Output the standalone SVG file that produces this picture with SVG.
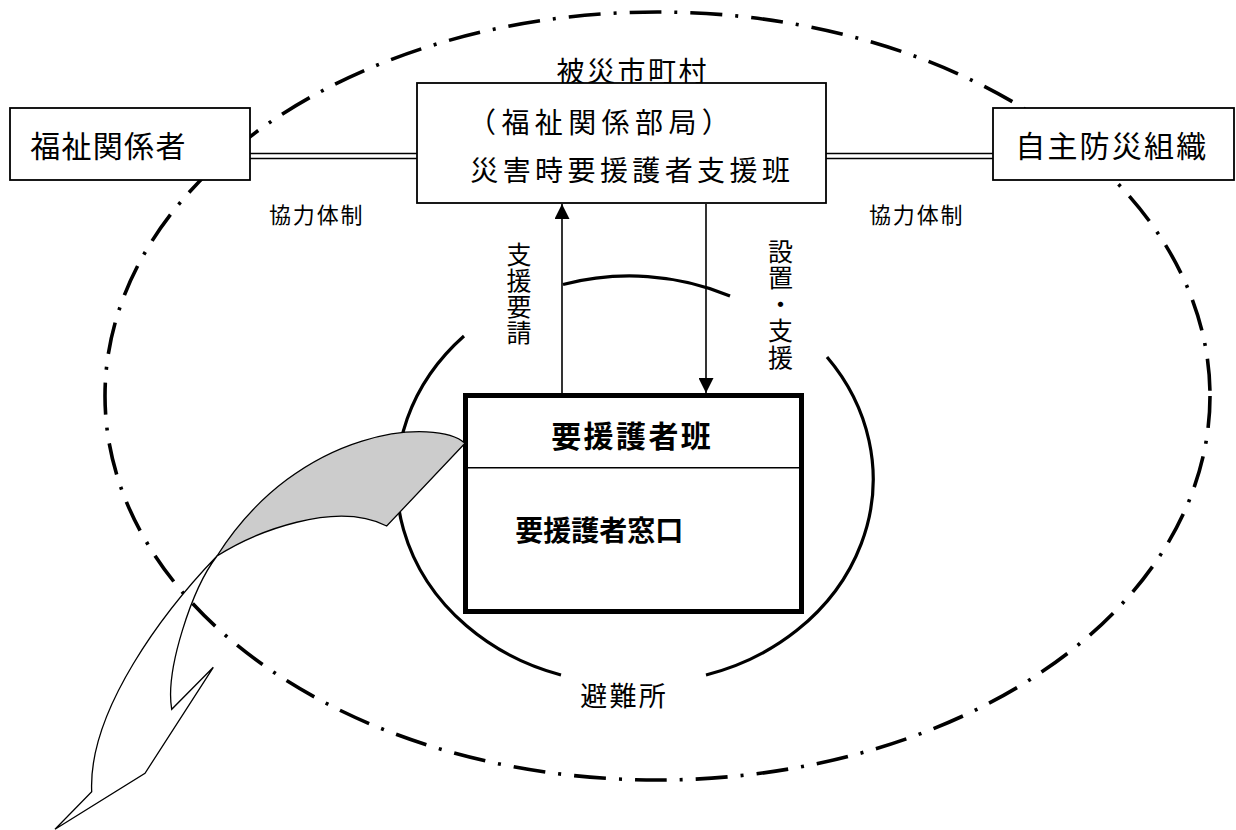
<svg xmlns="http://www.w3.org/2000/svg" width="1236" height="830" viewBox="0 0 1236 830">
<style>
  text { font-family: "Noto Sans CJK JP", "Noto Sans CJK SC", sans-serif; fill: #000; dominant-baseline: central; }
  .box { fill: #fff; stroke: #000; stroke-width: 1.8; }
  .thin { fill: none; stroke: #000; stroke-width: 1.6; }
  .shelter { fill: none; stroke: #000; stroke-width: 3.2; }
  .area { fill: none; stroke: #000; stroke-width: 3.6; stroke-dasharray: 32 13 3 13; }
  .vt { writing-mode: vertical-rl; text-orientation: upright; font-size: 25px; }
</style>
<defs>
  <marker id="ah" viewBox="0 0 15 15" refX="15" refY="7.5" markerWidth="15" markerHeight="15" markerUnits="userSpaceOnUse" orient="auto">
    <path d="M0,0 L15,7.5 L0,15 Z" fill="#000"/>
  </marker>
</defs>
<rect width="1236" height="830" fill="#fff"/>

<g id="municipality-area">
  <ellipse class="area" cx="657.5" cy="396" rx="552.5" ry="384"/>
</g>

<g id="connectors">
  <line class="thin" x1="250" y1="153.5" x2="417" y2="153.5"/>
  <line class="thin" x1="250" y1="158.5" x2="417" y2="158.5"/>
  <line class="thin" x1="826" y1="153.5" x2="993" y2="153.5"/>
  <line class="thin" x1="826" y1="158.5" x2="993" y2="158.5"/>
  <line class="thin" x1="562" y1="394" x2="562" y2="204" marker-end="url(#ah)"/>
  <line class="thin" x1="706" y1="204" x2="706" y2="393" marker-end="url(#ah)"/>
</g>

<g id="welfare">
  <rect class="box" x="10" y="108" width="240" height="72"/>
  <text x="30.2" y="144" font-size="30" letter-spacing="1.3">福祉関係者</text>
</g>

<g id="jishubo">
  <rect class="box" x="993" y="108" width="241" height="72"/>
  <text x="1015.2" y="144" font-size="30" letter-spacing="2.2">自主防災組織</text>
</g>

<g id="support-team">
  <text x="556.6" y="69.5" font-size="28" letter-spacing="2.5">被災市町村</text>
  <rect class="box" x="417" y="83" width="409" height="120"/>
  <text x="468" y="120.5" font-size="28" letter-spacing="5.4">（福祉関係部局）</text>
  <text x="470.3" y="169.2" font-size="28" letter-spacing="4.4">災害時要援護者支援班</text>
</g>

<g id="labels">
  <text x="268.9" y="213.3" font-size="22" letter-spacing="1.9">協力体制</text>
  <text x="868.9" y="213.3" font-size="22" letter-spacing="1.9">協力体制</text>
  <text class="vt" x="519" y="241.5" letter-spacing="1">支援要請</text>
  <text class="vt" x="780.5" y="239" letter-spacing="1.4">設置・支援</text>
</g>

<g id="shelter">
  <path class="shelter" d="M563,284.5 A232,204 0 0 1 730,296"/>
  <path class="shelter" d="M827,357 A232,204 0 0 1 706,675"/>
  <path class="shelter" d="M561,675 A232,204 0 0 1 464,336"/>
  <text x="580.3" y="694" font-size="27" letter-spacing="2.2">避難所</text>
</g>

<g id="care-team">
  <rect x="465.5" y="395.5" width="336" height="216" fill="#fff" stroke="#000" stroke-width="5"/>
  <line x1="468" y1="467.7" x2="799" y2="467.7" stroke="#000" stroke-width="1.6"/>
  <text x="551.2" y="434" font-size="30" font-weight="bold" letter-spacing="2.4">要援護者班</text>
  <text x="515.3" y="529" font-size="28" font-weight="bold">要援護者窓口</text>
</g>

<g id="callout-arrow">
  <path d="M465,443.3 C438,418 300,425 217,556 C255,532 335,500 386.7,526 Z" fill="#cccccc" stroke="#000" stroke-width="1.3"/>
  <path d="M217,556 C165,610 88,710 91.7,791.7 L55,829.3 L145,773.3 L213.3,667.3 L171.7,709.3 C165,670 192,588.5 217,556 Z" fill="#fff" stroke="#000" stroke-width="1.3"/>
</g>
</svg>
